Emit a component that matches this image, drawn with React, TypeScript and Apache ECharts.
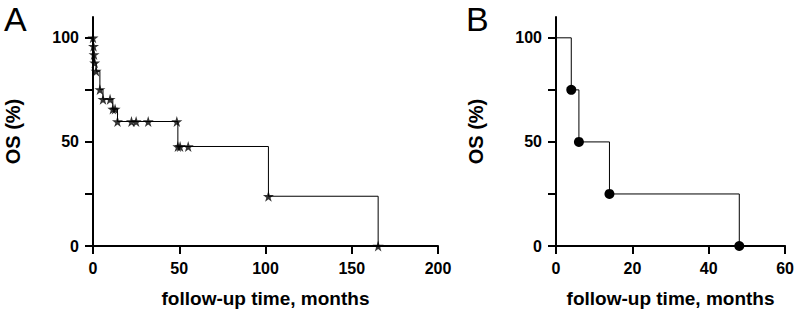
import React, { useEffect, useRef } from "react";
import * as echarts from "echarts";

// Panel A: Kaplan-Meier steps (event times / survival %)
const aEventTimes = [0, 0.3, 0.6, 1.0, 1.8, 4.0, 5.8, 11.5, 14.2, 49.2, 101.7, 165.3];
const aEventSurv = [100, 96, 92, 88, 84, 75.2, 70.5, 65.8, 59.8, 47.8, 23.9, 0];
// Panel A: additional (censored) star marks
const aCensorTimes = [9.9, 12.8, 22.3, 25, 32, 48.6, 50.5, 55.2];
const aCensorSurv = [70.5, 65.8, 59.8, 59.8, 59.8, 59.8, 47.8, 47.8];

// Panel B
const bEventTimes = [0, 4, 6, 14, 48];
const bEventSurv = [100, 75, 50, 25, 0];

const yTicks = [0, 25, 50, 75, 100];
const yLabels = [0, 50, 100];

const STAR = "path://M50,0 L61,35 L98,35 L68,57 L79,91 L50,70 L21,91 L32,57 L2,35 L39,35 Z";
const FONT = "Liberation Sans, Arial, sans-serif";

export default function App() {
  const ref = useRef<HTMLDivElement>(null);
  useEffect(() => {
    document.body.style.margin = "0";
    const chart = echarts.init(ref.current!, null, { renderer: "svg" });
    const pairs = (xs: number[], ys: number[]) => xs.map((x, i) => [x, ys[i]]);
    const aLine = pairs(aEventTimes, aEventSurv);
    const aStars = aLine.concat(pairs(aCensorTimes, aCensorSurv));
    const bLine = pairs(bEventTimes, bEventSurv);
    const bDots = bLine.slice(1);

    const axisCommon = {
      axisLine: { lineStyle: { color: "#000", width: 2 } },
      axisTick: { length: 8, lineStyle: { color: "#000", width: 2 } },
      splitLine: { show: false },
      axisLabel: { color: "#000", fontWeight: "bold", fontSize: 16, fontFamily: FONT },
      nameTextStyle: { color: "#000", fontWeight: "bold", fontFamily: FONT },
    };
    const mkY = (gi: number) => ({
      ...axisCommon,
      type: "value",
      gridIndex: gi,
      min: 0,
      max: 110,
      name: "OS (%)",
      nameLocation: "middle",
      nameGap: 70,
      nameTextStyle: { ...axisCommon.nameTextStyle, fontSize: 20 },
      axisTick: { ...axisCommon.axisTick, customValues: yTicks },
      axisLabel: { ...axisCommon.axisLabel, margin: 14, customValues: yLabels },
    });
    const mkX = (gi: number, max: number, interval: number) => ({
      ...axisCommon,
      type: "value",
      gridIndex: gi,
      min: 0,
      max,
      interval,
      name: "follow-up time, months",
      nameLocation: "middle",
      nameGap: 43,
      nameTextStyle: { ...axisCommon.nameTextStyle, fontSize: 19 },
      axisLabel: { ...axisCommon.axisLabel, margin: 14 },
    });

    chart.setOption({
      animation: false,
      graphic: [
        { type: "text", left: 4, top: 2, style: { text: "A", fontSize: 34, fontFamily: FONT, fill: "#000" } },
        { type: "text", left: 466, top: 2, style: { text: "B", fontSize: 34, fontFamily: FONT, fill: "#000" } },
      ],
      grid: [
        { left: 93, top: 17, width: 345, height: 232 },
        { left: 556, top: 17, width: 230, height: 232 },
      ],
      xAxis: [mkX(0, 200, 50), mkX(1, 60, 20)],
      yAxis: [mkY(0), mkY(1)],
      series: [
        {
          type: "line", xAxisIndex: 0, yAxisIndex: 0, data: aLine, step: "end",
          showSymbol: false, lineStyle: { color: "#000", width: 1 },
        },
        {
          type: "scatter", xAxisIndex: 0, yAxisIndex: 0, data: aStars,
          symbol: STAR, symbolSize: 11, itemStyle: { color: "#000" },
        },
        {
          type: "line", xAxisIndex: 1, yAxisIndex: 1, data: bLine, step: "end",
          showSymbol: false, lineStyle: { color: "#000", width: 1 },
        },
        {
          type: "scatter", xAxisIndex: 1, yAxisIndex: 1, data: bDots,
          symbol: "circle", symbolSize: 10, itemStyle: { color: "#000", opacity: 1 },
        },
      ],
    });
    return () => chart.dispose();
  }, []);
  return <div ref={ref} style={{ width: 797, height: 313 }} />;
}
